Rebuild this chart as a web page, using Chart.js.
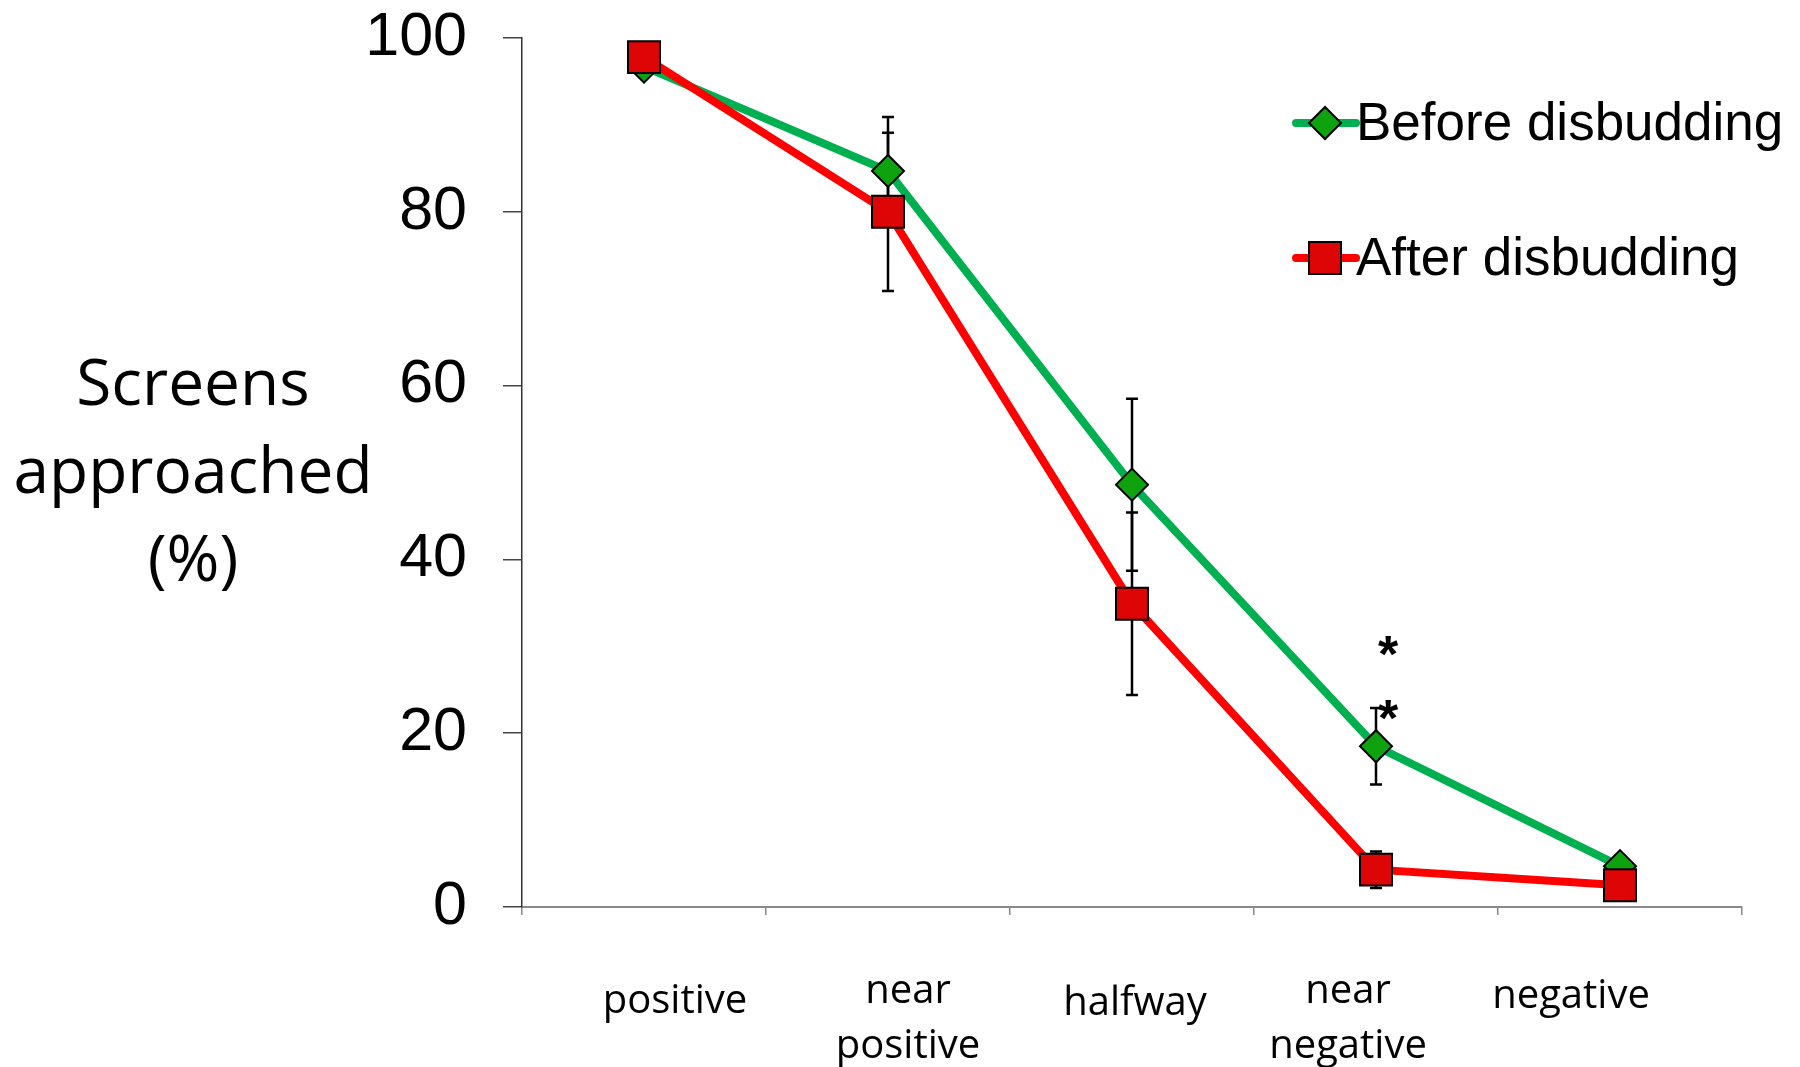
<!DOCTYPE html>
<html>
<head>
<meta charset="utf-8">
<script src="https://cdn.jsdelivr.net/npm/chart.js@4.4.1/dist/chart.umd.min.js"></script>
<style>
  html, body { margin: 0; padding: 0; background: #ffffff; }
  #wrap { width: 1800px; height: 1067px; position: relative; }
</style>
</head>
<body>
<div id="wrap"><canvas id="chart"></canvas></div>
<script>
// Target-distance categories (multi-line labels as arrays)
const categories = ['positive', ['near', 'positive'], 'halfway', ['near', 'negative'], 'negative'];

// Percentage of screens approached, with standard errors
const seriesNames = ['Before disbudding', 'After disbudding'];
const beforeValues = [96.7, 84.7, 48.6, 18.5, 4.7];
const beforeErrors = [0, 6.2, 9.9, 4.4, 0];
const afterValues = [97.8, 80.0, 34.9, 4.3, 2.5];
const afterErrors = [0, 9.1, 10.5, 2.1, 0];

// Axis ticks and title
const yTicks = [0, 20, 40, 60, 80, 100];
const yTitleLines = ['Screens', 'approached', '(%)'];

// Significance asterisks: category index and height on the value axis
const sigIndex = [3, 3];
const sigValue = [30.4, 23.0];

const SANS = '"Liberation Sans", Arial, sans-serif';
const HUMANIST = '"Open Sans", "Noto Sans", sans-serif';

// Category labels sit slightly off-centre under their slots (hand-placed text boxes)
const labelNudgeX = [31, 20, 3, -28, -49];
const labelNudgeY = [12, 2, 14, 2, 7];

const errorBarPlugin = {
  id: 'errorBars',
  beforeDatasetsDraw(chart) {
    const ctx = chart.ctx;
    const y = chart.scales.y;
    ctx.save();
    ctx.strokeStyle = '#000000';
    ctx.lineWidth = 2.5;
    chart.data.datasets.forEach((ds, di) => {
      const meta = chart.getDatasetMeta(di);
      ds.errors.forEach((err, i) => {
        if (!err) return;
        const px = meta.data[i].x;
        const top = y.getPixelForValue(ds.data[i] + err);
        const bot = y.getPixelForValue(ds.data[i] - err);
        ctx.beginPath();
        ctx.moveTo(px, top); ctx.lineTo(px, bot);
        ctx.moveTo(px - 6, top); ctx.lineTo(px + 6, top);
        ctx.moveTo(px - 6, bot); ctx.lineTo(px + 6, bot);
        ctx.stroke();
      });
    });
    ctx.restore();
  }
};

const asteriskPlugin = {
  id: 'asterisks',
  afterDatasetsDraw(chart) {
    const ctx = chart.ctx;
    const xs = chart.scales.x, ys = chart.scales.y;
    ctx.save();
    ctx.fillStyle = '#000000';
    ctx.font = 'bold 52px ' + SANS;
    ctx.textAlign = 'center';
    ctx.textBaseline = 'alphabetic';
    sigIndex.forEach((idx, k) => {
      const px = xs.getPixelForValue(idx) + 12;
      const py = ys.getPixelForValue(sigValue[k]);
      ctx.fillText('*', px, py + 29);
    });
    ctx.restore();
  }
};

const categoryLabelPlugin = {
  id: 'categoryLabels',
  afterDraw(chart) {
    const ctx = chart.ctx;
    const xs = chart.scales.x;
    const baseY = chart.chartArea.bottom + 83;
    ctx.save();
    ctx.fillStyle = '#000000';
    ctx.font = '40px ' + HUMANIST;
    ctx.textAlign = 'center';
    ctx.textBaseline = 'middle';
    chart.data.labels.forEach((lab, i) => {
      const lines = Array.isArray(lab) ? lab : [lab];
      const px = xs.getPixelForValue(i) + labelNudgeX[i];
      lines.forEach((line, j) => {
        ctx.fillText(line, px, baseY + labelNudgeY[i] + j * 55);
      });
    });
    ctx.restore();
  }
};

function drawMarker(ctx, style, r, x, y) {
  ctx.beginPath();
  if (style === 'rectRot') {
    ctx.moveTo(x - r, y); ctx.lineTo(x, y - r); ctx.lineTo(x + r, y); ctx.lineTo(x, y + r);
  } else {
    const h = r * Math.SQRT1_2;
    ctx.rect(x - h, y - h, 2 * h, 2 * h);
  }
  ctx.closePath();
  ctx.fill();
  ctx.stroke();
}

const legendPlugin = {
  id: 'sideLegend',
  afterDraw(chart) {
    const ctx = chart.ctx;
    const area = chart.chartArea;
    const x0 = area.right - 446, x1 = area.right - 386, mx = area.right - 417, tx = area.right - 386;
    ctx.save();
    chart.data.datasets.forEach((ds, i) => {
      const cy = area.top + 85 + i * 135;
      ctx.strokeStyle = ds.borderColor;
      ctx.lineWidth = 8;
      ctx.lineCap = 'round';
      ctx.beginPath(); ctx.moveTo(x0, cy); ctx.lineTo(x1, cy); ctx.stroke();
      ctx.lineCap = 'butt';
      ctx.fillStyle = ds.pointBackgroundColor;
      ctx.strokeStyle = ds.pointBorderColor;
      ctx.lineWidth = ds.pointBorderWidth;
      drawMarker(ctx, ds.pointStyle, ds.pointRadius, mx, cy);
      ctx.fillStyle = '#000000';
      ctx.font = '53px ' + SANS;
      ctx.textAlign = 'left';
      ctx.textBaseline = 'middle';
      ctx.fillText(ds.label, tx, cy + 2);
    });
    ctx.restore();
  }
};

const yTitlePlugin = {
  id: 'yTitle',
  afterDraw(chart) {
    const ctx = chart.ctx;
    const area = chart.chartArea;
    const mid = (area.top + area.bottom) / 2;
    ctx.save();
    ctx.fillStyle = '#000000';
    ctx.font = '64px ' + HUMANIST;
    ctx.textAlign = 'center';
    ctx.textBaseline = 'middle';
    yTitleLines.forEach((line, i) => {
      ctx.fillText(line, 193, mid + 2 + (i - 1) * 88);
    });
    ctx.restore();
  }
};

new Chart(document.getElementById('chart'), {
  type: 'line',
  data: {
    labels: categories,
    datasets: [
      {
        label: seriesNames[0],
        data: beforeValues,
        errors: beforeErrors,
        borderColor: '#00B050',
        borderWidth: 8,
        pointStyle: 'rectRot',
        pointRadius: 16,
        pointHoverRadius: 16,
        pointBackgroundColor: '#0EA30E',
        pointBorderColor: '#000000',
        pointBorderWidth: 2,
        tension: 0,
        fill: false,
        order: 1
      },
      {
        label: seriesNames[1],
        data: afterValues,
        errors: afterErrors,
        borderColor: '#FF0000',
        borderWidth: 8,
        pointStyle: 'rect',
        pointRadius: 22.6,
        pointHoverRadius: 22.6,
        pointBackgroundColor: '#DD0505',
        pointBorderColor: '#000000',
        pointBorderWidth: 2,
        tension: 0,
        fill: false,
        order: 0
      }
    ]
  },
  options: {
    responsive: true,
    maintainAspectRatio: false,
    animation: false,
    events: [],
    layout: { padding: { left: 0, right: 58, top: 38, bottom: 0 } },
    plugins: {
      legend: { display: false },
      tooltip: { enabled: false },
      title: { display: false }
    },
    scales: {
      x: {
        type: 'category',
        offset: true,
        grid: {
          offset: true,
          drawOnChartArea: false,
          drawTicks: true,
          tickLength: 8,
          color: '#8a8a8a',
          lineWidth: 1.5
        },
        border: { color: '#8a8a8a', width: 2 },
        ticks: { display: false },
        afterFit(scale) { scale.height = 160; }
      },
      y: {
        min: 0,
        max: 100,
        afterBuildTicks(scale) { scale.ticks = yTicks.map(v => ({ value: v })); },
        grid: {
          drawOnChartArea: false,
          drawTicks: true,
          tickLength: 19,
          color: '#444444',
          lineWidth: 1.5
        },
        border: { color: '#333333', width: 1.5 },
        ticks: {
          color: '#000000',
          font: { family: SANS, size: 61 },
          padding: 36
        },
        afterFit(scale) {
          scale.width = 522;
          scale.paddingTop = 0;
          scale.paddingBottom = 0;
        }
      }
    }
  },
  plugins: [errorBarPlugin, asteriskPlugin, categoryLabelPlugin, legendPlugin, yTitlePlugin]
});
</script>
</body>
</html>
